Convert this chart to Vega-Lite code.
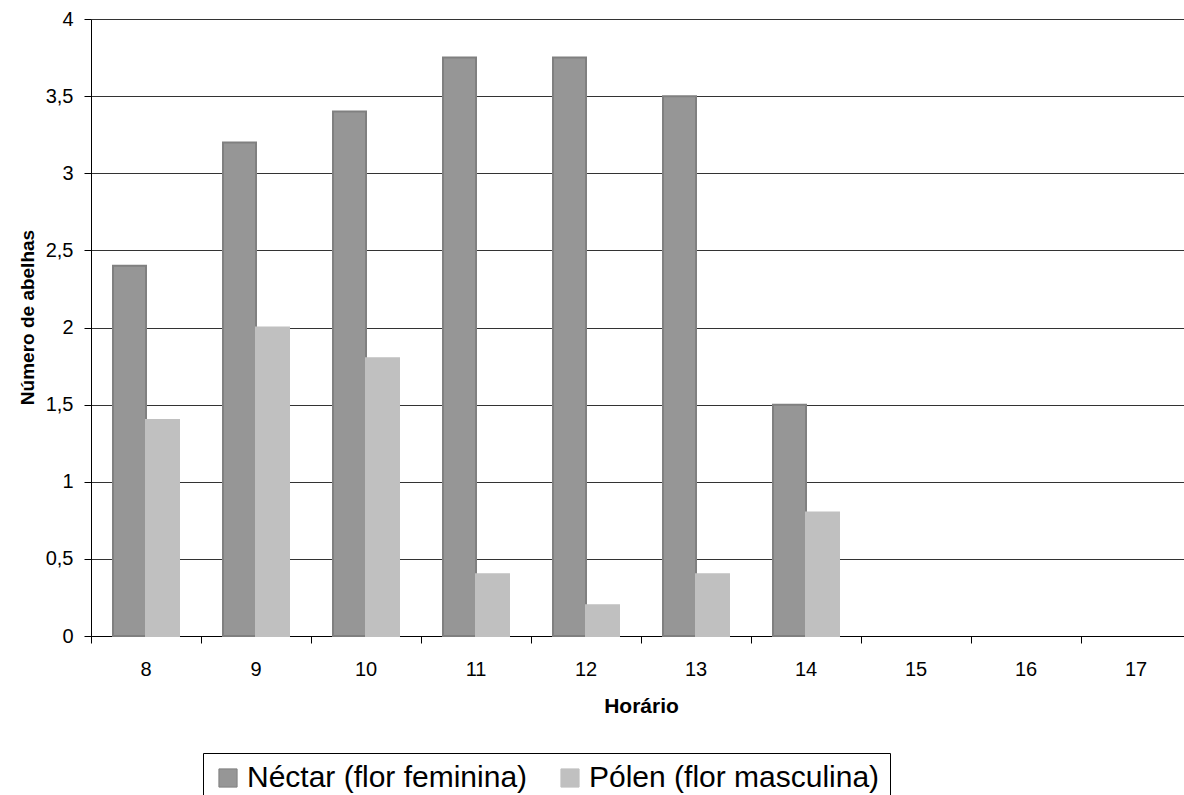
{
  "$schema": "https://vega.github.io/schema/vega-lite/v6.json",
  "autosize": {"type": "none"},
  "padding": {"left": 91, "top": 19, "right": 0, "bottom": 159},
  "width": 1100,
  "height": 617,
  "background": "white",
  "config": {
    "view": {"stroke": null},
    "font": "Liberation Sans"
  },
  "data": {
    "values": [
      {"Hora": 8, "Tipo": "Néctar (flor feminina)", "Abelhas": 2.4},
      {"Hora": 8, "Tipo": "Pólen (flor masculina)", "Abelhas": 1.4},
      {"Hora": 9, "Tipo": "Néctar (flor feminina)", "Abelhas": 3.2},
      {"Hora": 9, "Tipo": "Pólen (flor masculina)", "Abelhas": 2.0},
      {"Hora": 10, "Tipo": "Néctar (flor feminina)", "Abelhas": 3.4},
      {"Hora": 10, "Tipo": "Pólen (flor masculina)", "Abelhas": 1.8},
      {"Hora": 11, "Tipo": "Néctar (flor feminina)", "Abelhas": 3.75},
      {"Hora": 11, "Tipo": "Pólen (flor masculina)", "Abelhas": 0.4},
      {"Hora": 12, "Tipo": "Néctar (flor feminina)", "Abelhas": 3.75},
      {"Hora": 12, "Tipo": "Pólen (flor masculina)", "Abelhas": 0.2},
      {"Hora": 13, "Tipo": "Néctar (flor feminina)", "Abelhas": 3.5},
      {"Hora": 13, "Tipo": "Pólen (flor masculina)", "Abelhas": 0.4},
      {"Hora": 14, "Tipo": "Néctar (flor feminina)", "Abelhas": 1.5},
      {"Hora": 14, "Tipo": "Pólen (flor masculina)", "Abelhas": 0.8}
    ]
  },
  "mark": {"type": "bar", "strokeWidth": 2},
  "encoding": {
    "x": {
      "field": "Hora",
      "type": "ordinal",
      "scale": {"domain": [8, 9, 10, 11, 12, 13, 14, 15, 16, 17], "paddingInner": 0, "paddingOuter": 0},
      "axis": {
        "title": "Horário",
        "titleFont": "Liberation Sans",
        "titleFontSize": 21,
        "titleFontWeight": "bold",
        "titleColor": "black",
        "titlePadding": 16,
        "titleX": 550,
        "labelAngle": 0,
        "labelFont": "Liberation Sans",
        "labelFontSize": 20,
        "labelColor": "black",
        "labelPadding": 16,
        "tickSize": 7,
        "tickColor": "black",
        "domainColor": "black",
        "bandPosition": 0,
        "grid": false
      }
    },
    "xOffset": {
      "field": "Tipo",
      "type": "nominal",
      "scale": {"domain": ["Néctar (flor feminina)", "Pólen (flor masculina)"], "paddingInner": 0, "paddingOuter": 0.667}
    },
    "y": {
      "field": "Abelhas",
      "type": "quantitative",
      "scale": {"domain": [0, 4], "nice": false},
      "axis": {
        "title": "Número de abelhas",
        "titleFont": "Liberation Sans",
        "titleFontSize": 19,
        "titleFontWeight": "bold",
        "titleColor": "black",
        "titlePadding": 8,
        "titleY": 298,
        "values": [0, 0.5, 1, 1.5, 2, 2.5, 3, 3.5, 4],
        "labelExpr": "replace(datum.value + '', '.', ',')",
        "labelFont": "Liberation Sans",
        "labelFontSize": 20,
        "labelColor": "black",
        "labelPadding": 11,
        "tickSize": 7,
        "tickColor": "black",
        "domainColor": "black",
        "grid": true,
        "gridColor": "#333333",
        "gridWidth": 1
      }
    },
    "fill": {
      "field": "Tipo",
      "type": "nominal",
      "scale": {"domain": ["Néctar (flor feminina)", "Pólen (flor masculina)"], "range": ["#969696", "#c0c0c0"]},
      "legend": {
        "title": null,
        "orient": "none",
        "legendX": 112,
        "legendY": 734,
        "direction": "horizontal",
        "columnPadding": 27,
        "strokeColor": "black",
        "padding": 10,
        "symbolType": "square",
        "symbolSize": 330,
        "symbolStrokeColor": "#808080",
        "symbolStrokeWidth": 1,
        "labelFont": "Liberation Sans",
        "labelFontSize": 30,
        "labelColor": "black",
        "labelOffset": 4,
        "labelLimit": 400
      }
    },
    "stroke": {
      "field": "Tipo",
      "type": "nominal",
      "scale": {"domain": ["Néctar (flor feminina)", "Pólen (flor masculina)"], "range": ["#808080", "#c0c0c0"]},
      "legend": null
    }
  }
}
